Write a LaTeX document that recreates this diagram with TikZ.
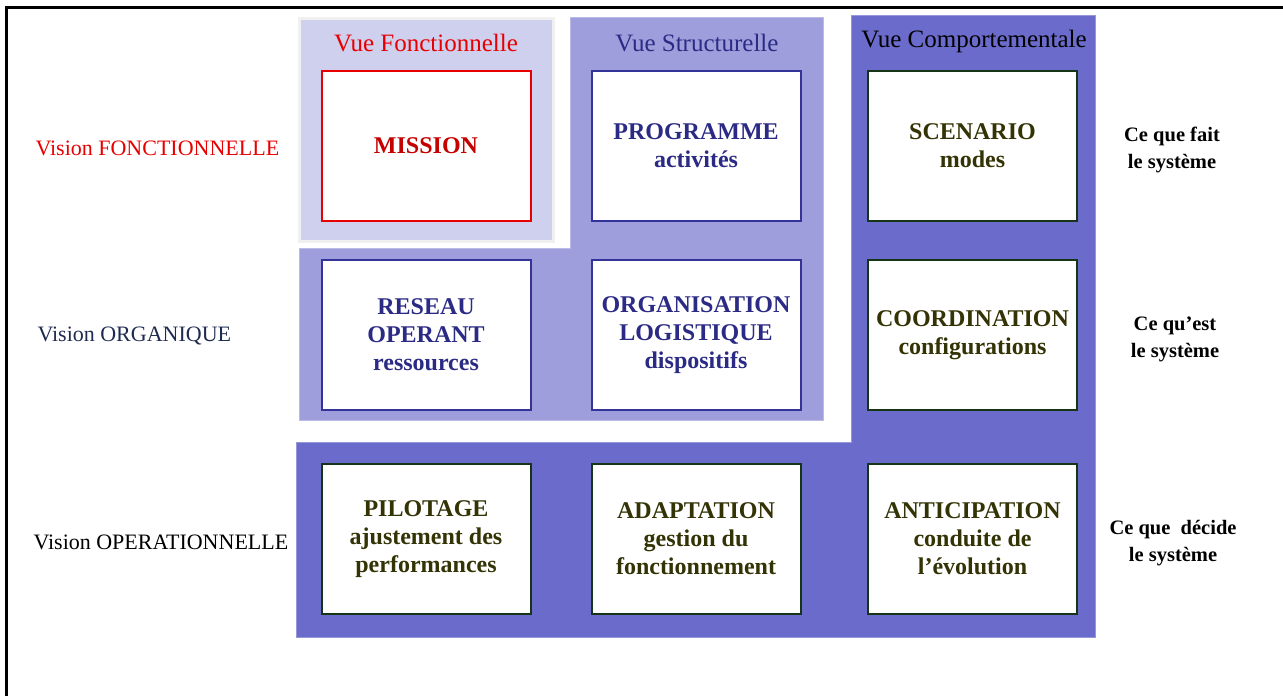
\documentclass[tikz,border=0pt]{standalone}
\usepackage{fontspec}
\setmainfont{Liberation Serif}
\definecolor{vuelight}{HTML}{CFCFEE}
\definecolor{vuemid}{HTML}{9E9EDC}
\definecolor{vuedark}{HTML}{6B6BCC}
\definecolor{bleuboite}{HTML}{333399}
\definecolor{texteb}{HTML}{2B2B85}
\definecolor{vertboite}{HTML}{163516}
\definecolor{textev}{HTML}{333305}
\definecolor{rouge}{HTML}{E80000}
\definecolor{marine}{HTML}{1F2A50}
\tikzset{
  boite/.style={draw,fill=white,line width=2pt,minimum width=209pt,minimum height=150pt,
    align=center,font=\fontsize{24}{28}\selectfont\bfseries},
  boiteb/.style={boite,draw=bleuboite,text=texteb},
  boitev/.style={boite,draw=vertboite,text=textev},
  titre/.style={font=\fontsize{25}{30}\selectfont},
  vision/.style={anchor=west,font=\fontsize{22}{26}\selectfont},
  systeme/.style={align=center,font=\fontsize{20.5}{27}\selectfont\bfseries}
}
\begin{document}
\begin{tikzpicture}[x=1pt,y=-1pt]
  \useasboundingbox (0,0) rectangle (1283,696);
  \draw[line width=3.5pt] (6.5,696) -- (6.5,7.5) -- (1283,7.5);
  % les trois vues
  \fill[vuedark,draw=vuedark!70!white,line width=0.8pt] (851,15) -- (1095,15) -- (1095,637) -- (296,637) -- (296,442) -- (851,442) -- cycle;
  \fill[vuemid,draw=vuemid!70!white,line width=0.8pt] (570,17) -- (823,17) -- (823,420) -- (299,420) -- (299,248) -- (570,248) -- cycle;
  \filldraw[fill=vuelight,draw=black!6,line width=3pt] (299.5,18.5) rectangle (553.5,241.5);
  \node[titre,text=rouge] (vuefonc) at (426,43) {Vue Fonctionnelle};
  \node[titre,text=texteb] (vuestruc) at (697,43) {Vue Structurelle};
  \node[titre] (vuecomp) at (974,41) {Vue Comportementale};
  % boites
  \node[boite,draw=rouge,text=rouge!85!black] (mission) at (426,145.5) {MISSION};
  \node[boiteb] (programme) at (696,145.5) {PROGRAMME\\activités};
  \node[boitev] (scenario) at (972.5,145.5) {SCENARIO\\modes};
  \node[boiteb] (reseau) at (426,335) {RESEAU\\OPERANT\\ressources};
  \node[boiteb] (organisation) at (696,335) {ORGANISATION\\LOGISTIQUE\\dispositifs};
  \node[boitev] (coordination) at (972.5,335) {COORDINATION\\configurations};
  \node[boitev] (pilotage) at (426,539) {PILOTAGE\\ajustement des\\performances};
  \node[boitev] (adaptation) at (696,539) {ADAPTATION\\gestion du\\fonctionnement};
  \node[boitev] (anticipation) at (972.5,539) {ANTICIPATION\\conduite de\\l’évolution};
  % visions
  \node[vision,text=rouge] (visfonc) at (32,148) {Vision FONCTIONNELLE};
  \node[vision,text=marine] (visorga) at (34,336) {Vision ORGANIQUE};
  \node[vision] (visoper) at (30,542) {Vision OPERATIONNELLE};
  \node[systeme] (fait) at (1172,150) {Ce que fait\\le système};
  \node[systeme] (est) at (1175,339) {Ce qu’est\\le système};
  \node[systeme] (decide) at (1173,543) {Ce que~~décide\\le système};
\end{tikzpicture}
\end{document}
